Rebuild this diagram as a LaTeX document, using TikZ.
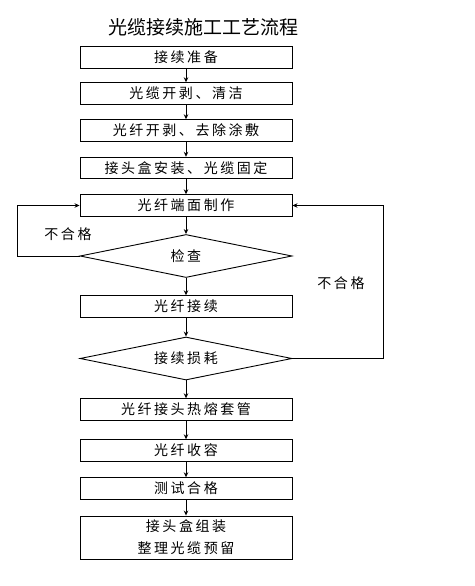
\documentclass[tikz,border=0pt]{standalone}
\usepackage{fontspec}
\setmainfont{Noto Sans CJK SC}
\newfontfamily\cjk[LetterSpace=18]{Noto Sans CJK SC}
\usetikzlibrary{
  arrows.meta,
  shapes.geometric
}
\tikzset{
  >={Stealth[length=5pt,width=4.5pt]},
  line cap=round,
  line join=round,
  every picture/.style={line width=0.9pt},
  stepbox/.style={draw, minimum width=212pt, minimum height=21.5pt, inner sep=0pt, align=center,
    font=\cjk\fontsize{14}{22}\selectfont},
  checkbox/.style={draw, diamond, aspect=5, minimum width=212pt, minimum height=43pt, inner sep=0pt,
    font=\cjk\fontsize{14}{22}\selectfont},
  note/.style={font=\cjk\fontsize{14}{16}\selectfont},
  arrow/.style={->}
}
\begin{document}
\begin{tikzpicture}[x=1pt,y=-1pt]
  \useasboundingbox (0,0) rectangle (474,586);

  \node[font=\fontsize{19}{22}\selectfont] (title) at (203,27) {光缆接续施工工艺流程};

  % main steps
  \node[stepbox] (prep)   at (186,57.5)  {接续准备};
  \node[stepbox] (strip)  at (186,93.5)  {光缆开剥、清洁};
  \node[stepbox] (coat)   at (186,130.5) {光纤开剥、去除涂敷};
  \node[stepbox] (mount)  at (186,168)   {接头盒安装、光缆固定};
  \node[stepbox] (cleave) at (186,205.5) {光纤端面制作};
  \node[checkbox] (check) at (186,256)   {检查};
  \node[stepbox] (splice) at (186,306.5) {光纤接续};
  \node[checkbox] (loss)  at (186,358.5) {接续损耗};
  \node[stepbox] (sleeve) at (186,409.5) {光纤接头热熔套管};
  \node[stepbox] (store)  at (186,450.5) {光纤收容};
  \node[stepbox] (test)   at (186,488.5) {测试合格};
  \node[stepbox, minimum height=43pt] (close) at (186,537.5) {接头盒组装\\整理光缆预留};

  \draw[arrow] (prep) -- (strip);
  \draw[arrow] (strip) -- (coat);
  \draw[arrow] (coat) -- (mount);
  \draw[arrow] (mount) -- (cleave);
  \draw[arrow] (cleave) -- (check);
  \draw[arrow] (check) -- (splice);
  \draw[arrow] (splice) -- (loss);
  \draw[arrow] (loss) -- (sleeve);
  \draw[arrow] (sleeve) -- (store);
  \draw[arrow] (store) -- (test);
  \draw[arrow] (test) -- (close);

  % feedback loops
  \draw[arrow] (check.west) -- ++(-62,0) |- (cleave.west);
  \draw[arrow] (loss.east) -- ++(91,0) |- (cleave.east);
  \node[note] (failleft)  at (68,234)  {不合格};
  \node[note] (failright) at (341,283) {不合格};
\end{tikzpicture}
\end{document}
